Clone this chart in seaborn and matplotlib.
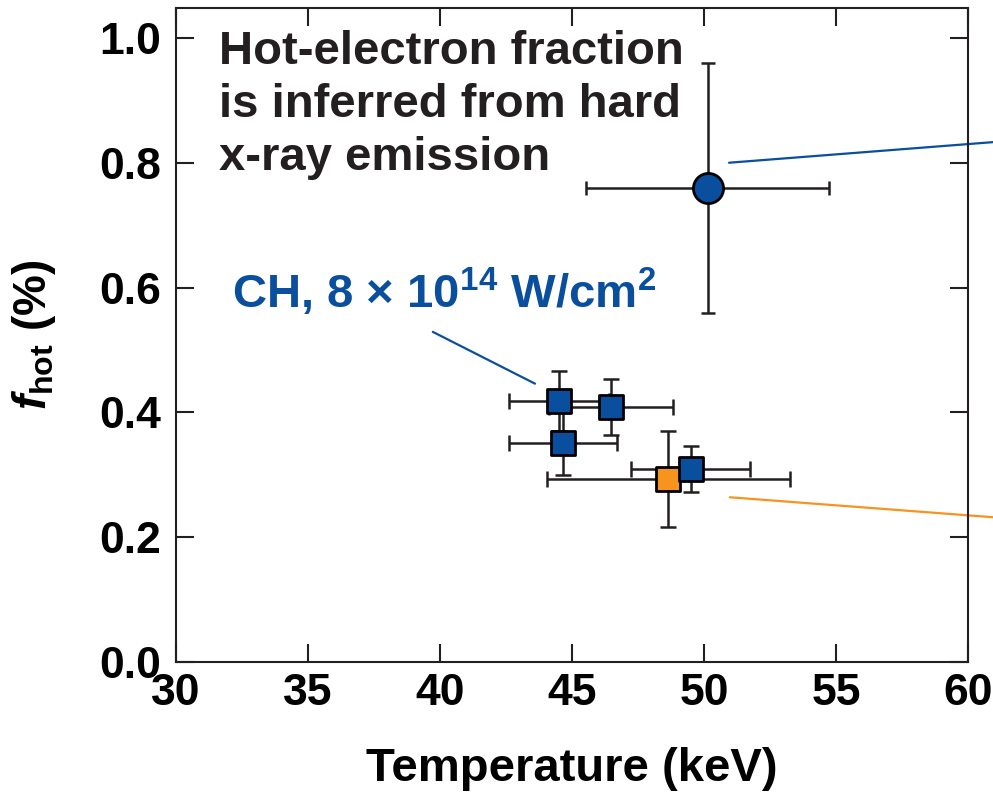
import numpy as np
import pandas as pd
import matplotlib
matplotlib.use('Agg')
import matplotlib.pyplot as plt
import seaborn as sns

# dados
ch_temp = [48.64, 44.51, 46.48, 44.66, 49.50]
ch_fhot = [0.293, 0.418, 0.409, 0.351, 0.309]
ch_terr = [4.6, 1.9, 2.35, 2.05, 2.25]
ch_ferr = [0.077, 0.048, 0.045, 0.051, 0.037]
ch_grupo = ['orange', 'CH', 'CH', 'CH', 'CH']

circ_temp = [50.15]
circ_fhot = [0.76]
circ_terr = [4.6]
circ_ferr = [0.20]

BLUE = '#0a4f9e'
ORANGE = '#f7941d'
DARK = '#231f20'

sns.set_style('ticks')
plt.rcParams['font.family'] = ['Liberation Sans', 'DejaVu Sans']
plt.rcParams['font.weight'] = 'bold'
plt.rcParams['mathtext.fontset'] = 'custom'
plt.rcParams['mathtext.rm'] = 'Liberation Sans:bold'
plt.rcParams['mathtext.it'] = 'Liberation Sans:bold:italic'
plt.rcParams['mathtext.bf'] = 'Liberation Sans:bold'

df = pd.DataFrame({'temp': ch_temp, 'fhot': ch_fhot, 'terr': ch_terr,
                   'ferr': ch_ferr, 'grupo': ch_grupo})
dc = pd.DataFrame({'temp': circ_temp, 'fhot': circ_fhot,
                   'terr': circ_terr, 'ferr': circ_ferr})

fig = plt.figure(figsize=(9.93, 7.94), dpi=100)
ax = fig.add_axes([0.1772, 0.1662, 0.7976, 0.8238])

# barras de erro atras dos marcadores
for d, cap in [(df, 5.8), (dc, 4.8)]:
    ax.errorbar(d['temp'], d['fhot'], xerr=d['terr'], yerr=d['ferr'],
                fmt='none', ecolor=DARK, elinewidth=1.8, capsize=cap,
                capthick=1.8, zorder=2)

sns.scatterplot(data=df, x='temp', y='fhot', hue='grupo',
                palette={'CH': BLUE, 'orange': ORANGE}, marker='s', s=300,
                edgecolor='black', linewidth=2.0, legend=False, ax=ax, zorder=3)
sns.scatterplot(data=dc, x='temp', y='fhot', color=BLUE, marker='o', s=470,
                edgecolor='black', linewidth=2.0, legend=False, ax=ax, zorder=3)

ax.set_xlim(30, 60)
ax.set_ylim(0, 1.048)
ax.set_xticks(np.arange(30, 61, 5))
ax.set_yticks(np.arange(0, 1.01, 0.2))
ax.set_yticklabels([f'{v:.1f}' for v in np.arange(0, 1.01, 0.2)])

for s in ax.spines.values():
    s.set_visible(True)
    s.set_linewidth(1.5)
    s.set_color(DARK)
ax.tick_params(direction='in', length=13, width=1.5, color=DARK,
               top=True, right=True, labelsize=32, labelcolor='black')
ax.tick_params(axis='x', pad=8)
ax.tick_params(axis='y', pad=11)
for lab in ax.get_xticklabels() + ax.get_yticklabels():
    lab.set_fontweight('bold')

ax.set_xlabel('Temperature (keV)', fontsize=34, fontweight='bold', color='black')
ax.set_ylabel(r'$\mathit{f}_{\mathrm{hot}}$ (%)', fontsize=33, fontweight='bold',
              color='black')
ax.xaxis.set_label_coords(0.5, -0.130)
ax.yaxis.set_label_coords(-0.149, 0.5)

ax.text(0.054, 0.967, 'Hot-electron fraction\nis inferred from hard\nx-ray emission',
        transform=ax.transAxes, ha='left', va='top', fontsize=34,
        fontweight='bold', color=DARK, linespacing=1.27)
ax.text(0.071, 0.541, r'CH, 8 × 10$^{14}$ W/cm$^{2}$', transform=ax.transAxes,
        ha='left', va='baseline', fontsize=34, fontweight='bold', color=BLUE)

# linhas de chamada (saem da area do grafico)
ax.plot([39.73, 43.6], [0.529, 0.446], color=BLUE, lw=1.6, clip_on=False)
ax.plot([50.95, 60.95], [0.80, 0.833], color=BLUE, lw=1.6, clip_on=False, zorder=1)
ax.plot([50.98, 60.95], [0.264, 0.232], color=ORANGE, lw=1.6, clip_on=False, zorder=1)

plt.savefig('out.png', dpi=100)
plt.close()
